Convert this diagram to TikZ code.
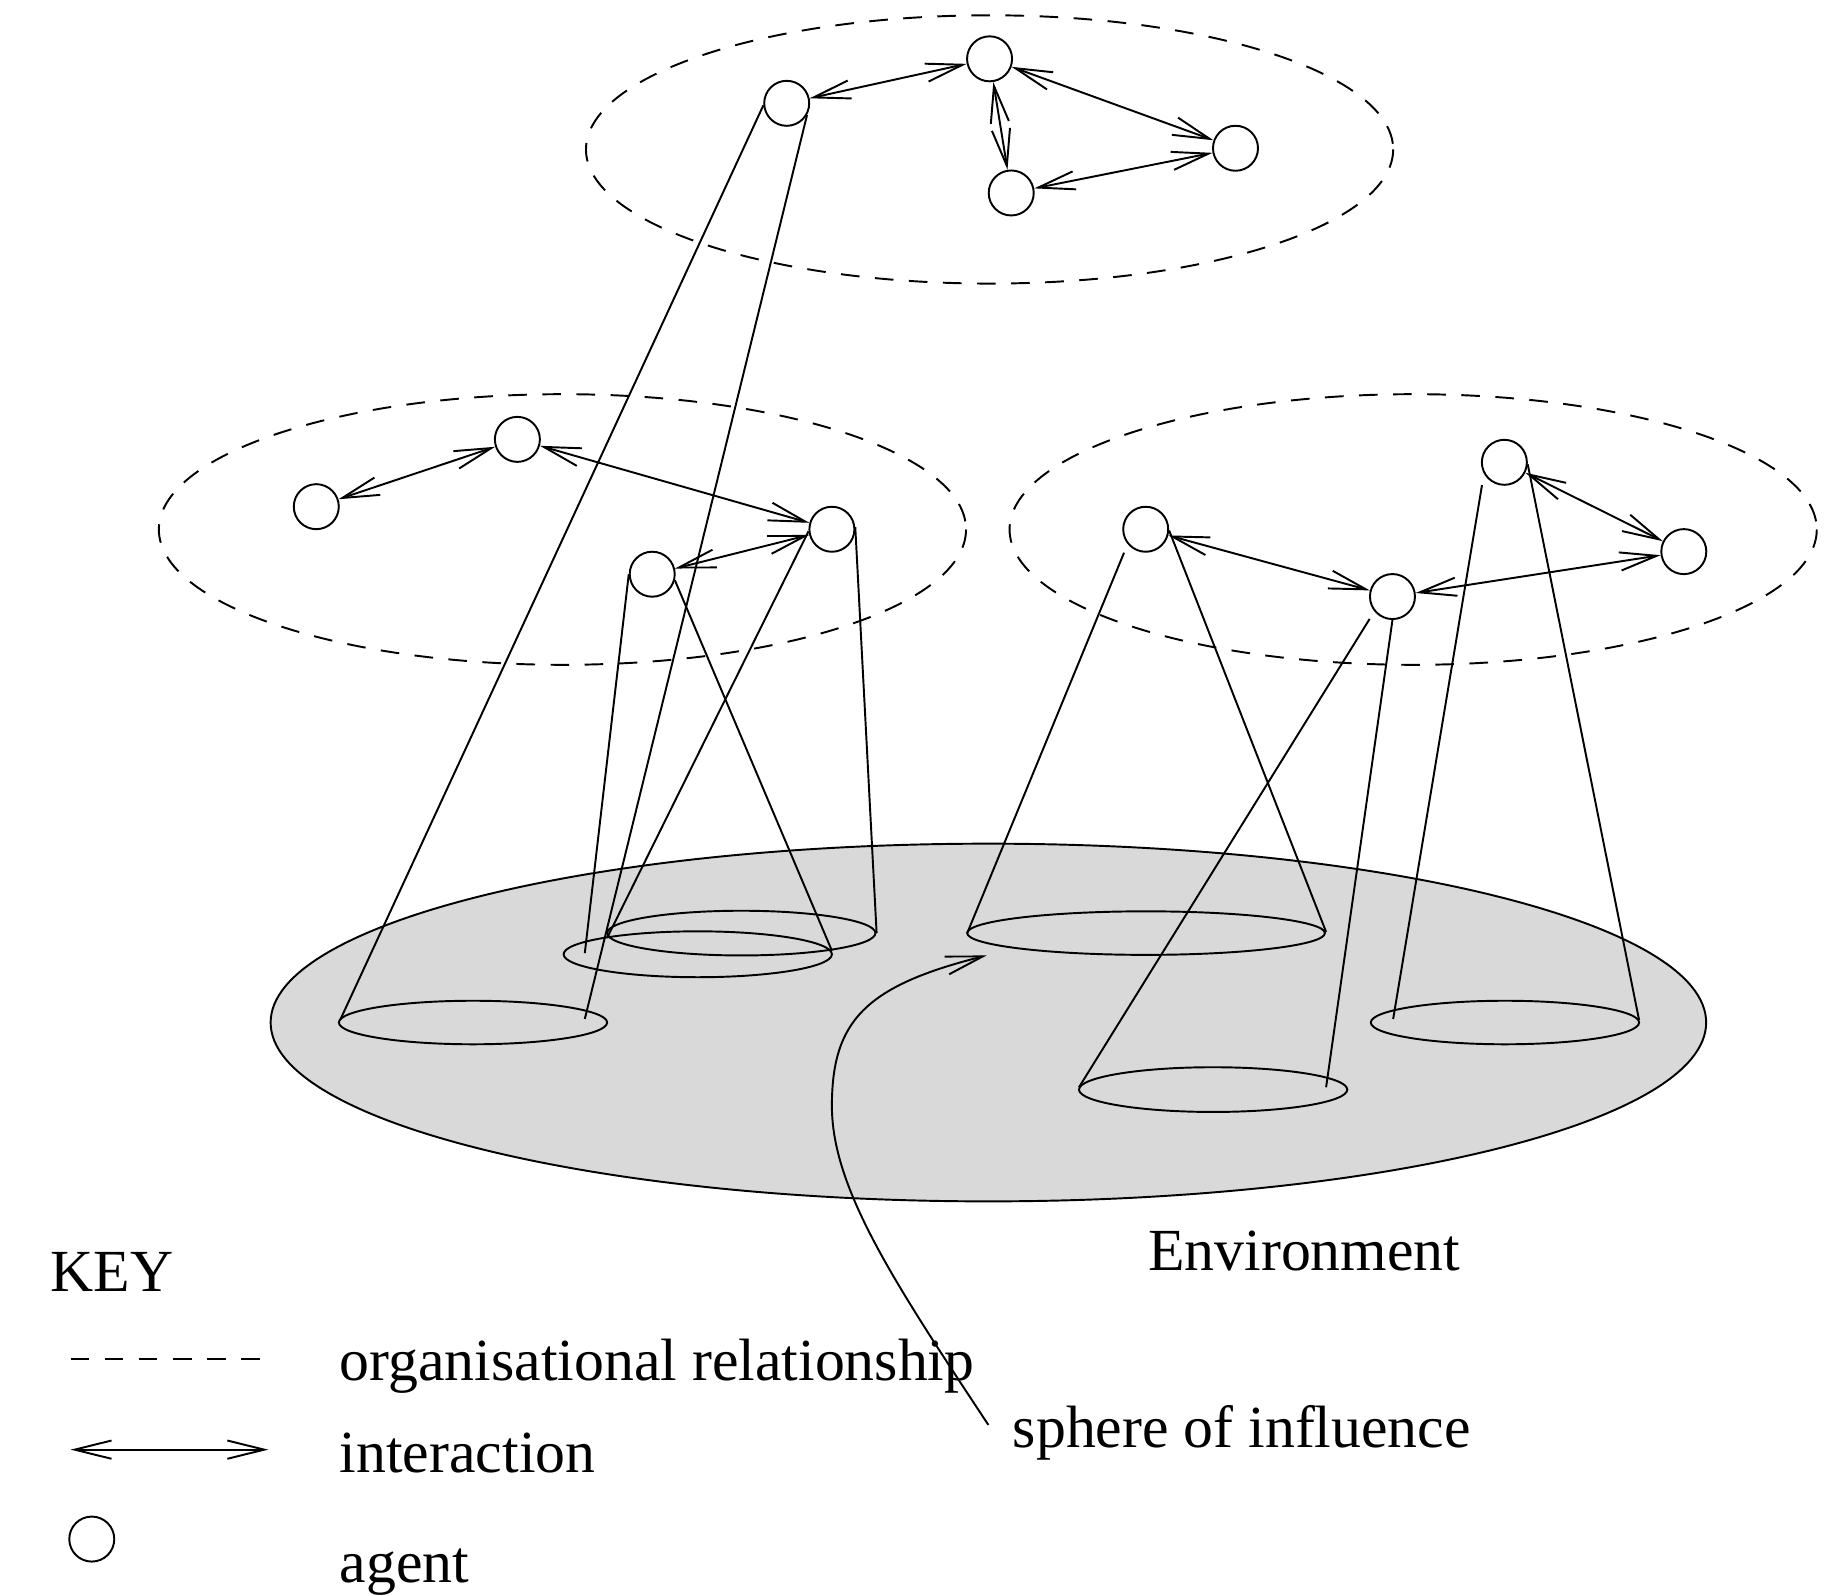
\documentclass[tikz,border=0pt]{standalone}
\usepackage{fontspec}
\setmainfont{Liberation Serif}
\usetikzlibrary{arrows.meta}
\definecolor{envgray}{RGB}{217,217,217}
\begin{document}
\begin{tikzpicture}[x=0.011767cm,y=-0.011767cm,
  line width=0.55pt,
  agent/.style={circle,draw,fill=white,minimum size=0.45cm,inner sep=0pt},
  org/.style={draw,dash pattern=on 5.3pt off 4.4pt},
  inter/.style={{Straight Barb[length=10.5pt,width=5.2pt]}-{Straight Barb[length=10.5pt,width=5.2pt]}},
  lbl/.style={anchor=base west,inner sep=0pt,font=\fontsize{17}{20}\selectfont}]
\useasboundingbox (0,0) rectangle (1568,1356);

% environment
\filldraw[fill=envgray] (840,869) ellipse [x radius=610, y radius=152];

% spheres of influence
\draw (402,869) ellipse [x radius=114, y radius=18.5];
\draw (593,811) ellipse [x radius=114, y radius=19.5];
\draw (630,793) ellipse [x radius=114, y radius=19];
\draw (974,793) ellipse [x radius=152, y radius=18.5];
\draw (1031,926) ellipse [x radius=114, y radius=19];
\draw (1279,869) ellipse [x radius=114, y radius=18.5];

% organisational relationships
\draw[org] (841,127) ellipse [x radius=343, y radius=114];
\draw[org] (478,450) ellipse [x radius=343, y radius=115];
\draw[org] (1201,450) ellipse [x radius=343, y radius=115];

% agents
\node[agent] (T1) at (668.6,87.8) {};
\node[agent] (T2) at (841,50) {};
\node[agent] (T3) at (859.4,164) {};
\node[agent] (T4) at (1050,126) {};
\node[agent] (L1) at (268.8,430.6) {};
\node[agent] (L2) at (439.7,373.4) {};
\node[agent] (L3) at (707,449.8) {};
\node[agent] (L4) at (554.3,488) {};
\node[agent] (R1) at (973.7,449.8) {};
\node[agent] (R2) at (1183.4,507) {};
\node[agent] (R3) at (1278.5,392.9) {};
\node[agent] (R4) at (1431,468.8) {};

% cone end points
\coordinate (s1l) at (289,867);
\coordinate (s1r) at (497,866);
\coordinate (s2l) at (497,810);
\coordinate (s2r) at (707,808);
\coordinate (s3l) at (516,797);
\coordinate (s3r) at (745,793);
\coordinate (s4l) at (822,793);
\coordinate (s4r) at (1127,792);
\coordinate (s5l) at (917,924);
\coordinate (s5r) at (1127,924);
\coordinate (s6l) at (1184,866);
\coordinate (s6r) at (1393,867);
\coordinate (r1s) at (955.3,469.7);
\coordinate (r2s) at (1164,526);
\coordinate (r3s) at (1259.5,412.2);

% cones
\draw (T1.185) -- (s1l);
\draw (T1.-30) -- (s1r);
\draw (L4.180) -- (s2l);
\draw (L4.-15) -- (s2r);
\draw (L3.185) -- (s3l);
\draw (L3.5) -- (s3r);
\draw (r1s) -- (s4l);
\draw (R1.-3) -- (s4r);
\draw (r2s) -- (s5l);
\draw (R2.-90) -- (s5r);
\draw (r3s) -- (s6l);
\draw (R3.-5) -- (s6r);

% interactions
\draw[inter] (T1) -- (T2);
\draw[inter] (T2) -- (T3);
\draw[inter] (T2) -- (T4);
\draw[inter] (T3) -- (T4);
\draw[inter] (L1) -- (L2);
\draw[inter] (L2) -- (L3);
\draw[inter] (L4) -- (L3);
\draw[inter] (R1) -- (R2);
\draw[inter] (R2) -- (R4);
\draw[inter] (R3) -- (R4);

% labels
\node[lbl] (env) at (975,1080) {Environment};
\node[lbl] (sph) at (860,1230) {sphere of influence};
\coordinate (tip) at (838.5,812);
\coordinate (cs) at (840,1211);
\coordinate (cm) at (707,940);
\draw[-{Straight Barb[length=10.5pt,width=5.2pt]}] (cs) .. controls (760,1090) and (707,1010) .. (cm) .. controls (707,868) and (735,838) .. (tip);

% key
\node[lbl] (key) at (42,1098) {KEY};
\coordinate (k1a) at (60,1155);
\coordinate (k1b) at (228,1155);
\draw[org] (k1a) -- (k1b);
\coordinate (k2a) at (60,1232);
\coordinate (k2b) at (228,1232);
\draw[inter] (k2a) -- (k2b);
\node[agent] (kag) at (78,1308) {};
\node[lbl] (korg) at (288,1173) {organisational relationship};
\node[lbl] (kint) at (288,1251) {interaction};
\node[lbl] (kagt) at (288,1345) {agent};
\end{tikzpicture}
\end{document}
